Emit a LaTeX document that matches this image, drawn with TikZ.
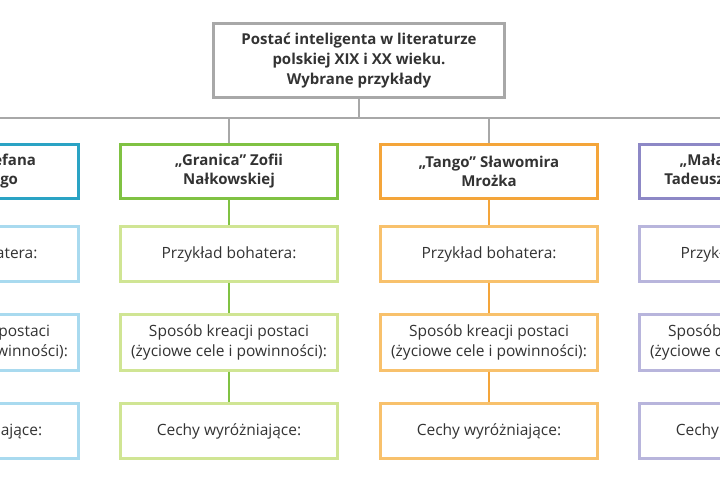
\documentclass[tikz,border=0pt]{standalone}
\usepackage{fontspec}
\setmainfont{Open Sans}
\definecolor{txt}{HTML}{333333}
\definecolor{grayline}{HTML}{A8A8A8}
\definecolor{blueH}{HTML}{2AA3C4}
\definecolor{blueS}{HTML}{A9DAEF}
\definecolor{greenH}{HTML}{80C243}
\definecolor{greenS}{HTML}{D0E594}
\definecolor{orangeH}{HTML}{F4A53A}
\definecolor{orangeS}{HTML}{F8C16C}
\definecolor{purpleH}{HTML}{8D88C6}
\definecolor{purpleS}{HTML}{B8B5DC}
\begin{document}
\begin{tikzpicture}[x=1pt,y=-1pt,
  box/.style={draw, line width=2.6pt, inner sep=0pt, align=center, text=txt,
    font=\fontsize{15.5}{19.5}\selectfont},
  head/.style={box, minimum width=217.5pt, minimum height=54.5pt,
    font=\bfseries\fontsize{15}{19}\selectfont},
  subbox/.style={box, minimum width=217.5pt, minimum height=55.5pt},
  topbox/.style={box, minimum width=291.5pt, minimum height=74.5pt,
    font=\bfseries\fontsize{15}{20}\selectfont},
  link/.style={line width=2.6pt}]
\useasboundingbox (0,0) rectangle (720,480);
\clip (0,0) rectangle (720,480);
\fill[white] (0,0) rectangle (720,480);
\coordinate (hl) at (0,118);
\node[topbox, draw=grayline] (top) at (359,60.5)
  {Postać inteligenta w literaturze\\polskiej XIX i XX wieku.\\Wybrane przykłady};
\foreach \n/\x/\hc/\sc/\t in {
  b/-30/blueH/blueS/{„Popioły” Stefana\\Żeromskiego},
  g/229/greenH/greenS/{„Granica” Zofii\\Nałkowskiej},
  o/489/orangeH/orangeS/{„Tango” Sławomira\\Mrożka},
  p/748/purpleH/purpleS/{„Mała apokalipsa”\\Tadeusza Konwickiego}}{
  \node[head, draw=\hc] (\n h) at (\x,171.5) {\t};
  \node[subbox, draw=\sc] (\n 1) at (\x,254) {Przykład bohatera:};
  \node[subbox, draw=\sc] (\n 2) at (\x,342.5) {Sposób kreacji postaci\\(życiowe cele i powinności):};
  \node[subbox, draw=\sc] (\n 3) at (\x,431) {Cechy wyróżniające:};
  \draw[link, \hc] (\n h) -- (\n 1);
  \draw[link, \hc] (\n 1) -- (\n 2);
  \draw[link, \hc] (\n 2) -- (\n 3);
  \draw[link, grayline] (\n h.north |- hl) -- (\n h.north);
}
\draw[link, grayline] (top.south) -- (top.south |- hl);
\draw[link, grayline] (bh.north |- hl) -- (ph.north |- hl);
\end{tikzpicture}
\end{document}
